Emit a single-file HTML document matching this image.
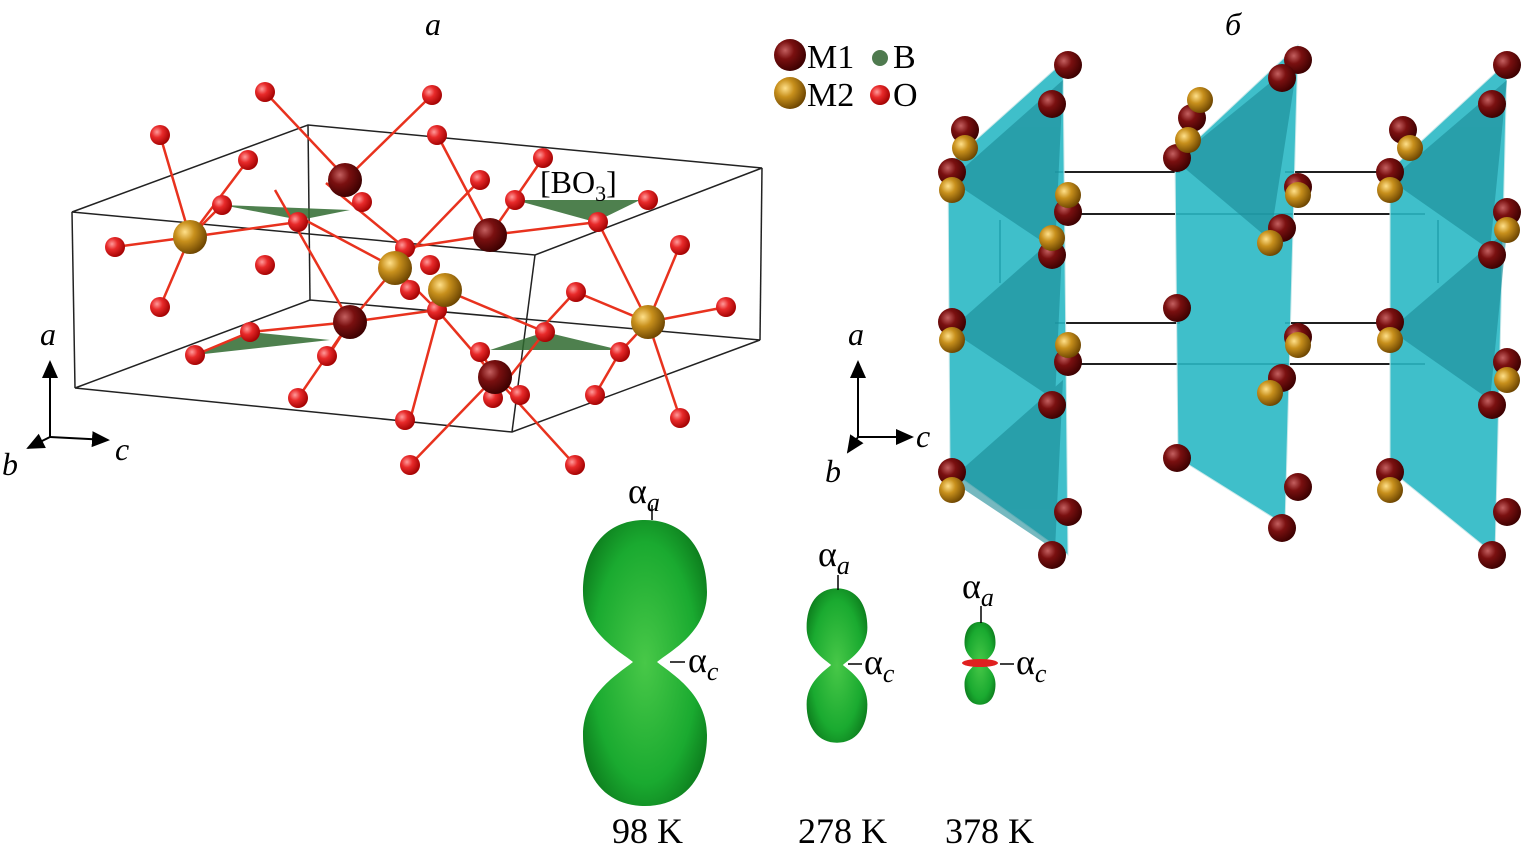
<!DOCTYPE html>
<html><head><meta charset="utf-8"><style>
html,body{margin:0;padding:0;background:#fff;}
svg{display:block;font-family:"Liberation Serif",serif;}
</style></head><body>
<svg width="1523" height="856" viewBox="0 0 1523 856" xmlns="http://www.w3.org/2000/svg">
<defs>
<radialGradient id="o" cx="35%" cy="35%" r="70%"><stop offset="0" stop-color="#ff9a9a"/><stop offset="0.4" stop-color="#e82a2a"/><stop offset="1" stop-color="#a00000"/></radialGradient>
<radialGradient id="m1" cx="35%" cy="35%" r="70%"><stop offset="0" stop-color="#c46060"/><stop offset="0.4" stop-color="#7a1010"/><stop offset="1" stop-color="#3a0000"/></radialGradient>
<radialGradient id="m2" cx="35%" cy="35%" r="70%"><stop offset="0" stop-color="#ffe08a"/><stop offset="0.4" stop-color="#c8901c"/><stop offset="1" stop-color="#6a4300"/></radialGradient>
<radialGradient id="g" cx="50%" cy="50%" r="60%"><stop offset="0" stop-color="#48c848"/><stop offset="0.7" stop-color="#1aaa30"/><stop offset="1" stop-color="#0c7a1c"/></radialGradient>
<marker id="ar" markerWidth="10" markerHeight="10" refX="8" refY="5" orient="auto"><path d="M0,1 L9,5 L0,9 z" fill="#000"/></marker>
<path id="pn" d="M645,520 C685,520 707,550 707,592 C707,632 672,650 657,662 C672,674 707,694 707,735 C707,780 682,806 645,806 C608,806 583,780 583,735 C583,694 618,674 633,662 C618,650 583,632 583,592 C583,550 605,520 645,520 Z"/>
</defs>

<text x="433" y="35" font-size="32" font-style="italic" text-anchor="middle">a</text>
<text x="1233" y="35" font-size="32" font-style="italic" text-anchor="middle">б</text>

<circle cx="790" cy="55" r="16" fill="url(#m1)"/>
<text x="807" y="68" font-size="34">M1</text>
<circle cx="880" cy="58" r="8" fill="#4f7a4f"/>
<text x="893" y="68" font-size="34">B</text>
<circle cx="790" cy="93" r="16" fill="url(#m2)"/>
<text x="807" y="106" font-size="34">M2</text>
<circle cx="880" cy="95" r="10" fill="url(#o)"/>
<text x="893" y="106" font-size="34">O</text>

<g stroke="#222" stroke-width="1.5" fill="none">
<polygon points="72,212 308,125 762,168 535,255"/>
<polygon points="75,388 310,300 760,340 512,432"/>
<line x1="72" y1="212" x2="75" y2="388"/>
<line x1="535" y1="255" x2="512" y2="432"/>
<line x1="762" y1="168" x2="760" y2="340"/>
<line x1="308" y1="125" x2="310" y2="300"/>
</g>
<g fill="#2f6a2f" opacity="0.85">
<polygon points="222,205 350,210 300,220"/>
<polygon points="515,200 640,200 595,222"/>
<polygon points="195,355 330,340 250,332"/>
<polygon points="490,350 620,350 545,332"/>
</g>
<text x="540" y="193" font-size="32">[BO<tspan font-size="22" dy="8">3</tspan><tspan dy="-8">]</tspan></text>
<g stroke="#e8321e" stroke-width="2.5">
<line x1="190" y1="237" x2="115" y2="247"/><line x1="190" y1="237" x2="160" y2="135"/><line x1="190" y1="237" x2="160" y2="307"/><line x1="190" y1="237" x2="248" y2="160"/><line x1="190" y1="237" x2="222" y2="205"/><line x1="190" y1="237" x2="298" y2="222"/>
<line x1="265" y1="92" x2="348" y2="180"/><line x1="345" y1="180" x2="432" y2="95"/><line x1="326" y1="183" x2="405" y2="248"/>
<line x1="490" y1="235" x2="543" y2="158"/><line x1="490" y1="235" x2="405" y2="248"/><line x1="490" y1="235" x2="440" y2="140"/><line x1="490" y1="235" x2="598" y2="222"/>
<line x1="395" y1="268" x2="350" y2="322"/><line x1="395" y1="268" x2="305" y2="220"/><line x1="395" y1="268" x2="437" y2="310"/><line x1="395" y1="268" x2="480" y2="180"/>
<line x1="445" y1="290" x2="435" y2="308"/><line x1="445" y1="290" x2="545" y2="332"/><line x1="445" y1="290" x2="410" y2="420"/>
<line x1="350" y1="322" x2="250" y2="332"/><line x1="350" y1="322" x2="298" y2="398"/><line x1="350" y1="322" x2="437" y2="310"/><line x1="350" y1="322" x2="327" y2="358"/><line x1="350" y1="322" x2="275" y2="190"/>
<line x1="495" y1="377" x2="480" y2="350"/><line x1="495" y1="377" x2="575" y2="465"/><line x1="495" y1="377" x2="410" y2="465"/><line x1="495" y1="377" x2="520" y2="395"/><line x1="495" y1="377" x2="437" y2="310"/>
<line x1="648" y1="322" x2="680" y2="245"/><line x1="648" y1="322" x2="726" y2="307"/><line x1="648" y1="322" x2="680" y2="418"/><line x1="648" y1="322" x2="576" y2="292"/><line x1="648" y1="322" x2="598" y2="222"/><line x1="648" y1="322" x2="620" y2="352"/>
<line x1="575" y1="292" x2="540" y2="330"/><line x1="595" y1="395" x2="620" y2="352"/><line x1="493" y1="398" x2="545" y2="332"/>
<line x1="195" y1="355" x2="250" y2="332"/>
</g>
<g fill="url(#o)">
<circle cx="265" cy="92" r="10"/><circle cx="432" cy="95" r="10"/><circle cx="160" cy="135" r="10"/><circle cx="437" cy="135" r="10"/><circle cx="543" cy="158" r="10"/><circle cx="248" cy="160" r="10"/><circle cx="480" cy="180" r="10"/><circle cx="222" cy="205" r="10"/><circle cx="362" cy="202" r="10"/><circle cx="298" cy="222" r="10"/><circle cx="515" cy="200" r="10"/><circle cx="598" cy="222" r="10"/><circle cx="648" cy="200" r="10"/><circle cx="115" cy="247" r="10"/><circle cx="405" cy="248" r="10"/><circle cx="265" cy="265" r="10"/><circle cx="430" cy="265" r="10"/><circle cx="680" cy="245" r="10"/><circle cx="576" cy="292" r="10"/><circle cx="410" cy="290" r="10"/><circle cx="160" cy="307" r="10"/><circle cx="437" cy="310" r="10"/><circle cx="726" cy="307" r="10"/><circle cx="250" cy="332" r="10"/><circle cx="545" cy="332" r="10"/><circle cx="195" cy="355" r="10"/><circle cx="327" cy="356" r="10"/><circle cx="480" cy="352" r="10"/><circle cx="620" cy="352" r="10"/><circle cx="298" cy="398" r="10"/><circle cx="493" cy="398" r="10"/><circle cx="595" cy="395" r="10"/><circle cx="520" cy="395" r="10"/><circle cx="680" cy="418" r="10"/><circle cx="405" cy="420" r="10"/><circle cx="410" cy="465" r="10"/><circle cx="575" cy="465" r="10"/>
</g>
<circle cx="345" cy="180" r="17" fill="url(#m1)"/><circle cx="490" cy="235" r="17" fill="url(#m1)"/><circle cx="350" cy="322" r="17" fill="url(#m1)"/><circle cx="495" cy="377" r="17" fill="url(#m1)"/>
<circle cx="190" cy="237" r="17" fill="url(#m2)"/><circle cx="395" cy="268" r="17" fill="url(#m2)"/><circle cx="445" cy="290" r="17" fill="url(#m2)"/><circle cx="648" cy="322" r="17" fill="url(#m2)"/>

<g stroke="#000" stroke-width="2" fill="none">
<line x1="50" y1="437" x2="50" y2="362" marker-end="url(#ar)"/>
<line x1="50" y1="437" x2="108" y2="440" marker-end="url(#ar)"/>
<line x1="50" y1="437" x2="28" y2="448" marker-end="url(#ar)"/>
</g>
<text x="40" y="345" font-size="32" font-style="italic">a</text>
<text x="115" y="460" font-size="32" font-style="italic">c</text>
<text x="2" y="475" font-size="32" font-style="italic">b</text>

<g stroke="#000" stroke-width="1.8">
<line x1="1055" y1="172" x2="1180" y2="172"/><line x1="1285" y1="172" x2="1395" y2="172"/>
<line x1="1065" y1="214" x2="1425" y2="214"/>
<line x1="1055" y1="323" x2="1180" y2="323"/><line x1="1285" y1="323" x2="1395" y2="323"/>
<line x1="1065" y1="364" x2="1425" y2="364"/>
<line x1="1000" y1="220" x2="1000" y2="283"/><line x1="1438" y1="220" x2="1438" y2="283"/>
</g>
<g fill="#2ab8c4" fill-opacity="0.9" stroke="#c8e8ea" stroke-width="1">
<polygon points="948,165 1063,62 1068,555 950,470"/>
<polygon points="1175,160 1298,45 1285,525 1178,458"/>
<polygon points="1390,170 1507,62 1495,555 1390,470"/>
</g>
<g fill="#1a8a96" opacity="0.6">
<polygon points="950,180 1063,80 1055,250"/><polygon points="950,330 1063,230 1055,400"/><polygon points="950,480 1063,380 1055,550"/>
<polygon points="1175,160 1298,60 1270,240"/><polygon points="1390,180 1507,80 1490,250"/><polygon points="1390,330 1507,230 1490,400"/>
</g>
<g fill="url(#m1)">
<circle cx="1068" cy="65" r="14"/><circle cx="1052" cy="104" r="14"/><circle cx="965" cy="130" r="14"/><circle cx="952" cy="172" r="14"/><circle cx="1068" cy="212" r="14"/><circle cx="1052" cy="255" r="14"/><circle cx="952" cy="322" r="14"/><circle cx="1068" cy="362" r="14"/><circle cx="1052" cy="405" r="14"/><circle cx="952" cy="472" r="14"/><circle cx="1068" cy="512" r="14"/><circle cx="1052" cy="555" r="14"/>
<circle cx="1298" cy="60" r="14"/><circle cx="1282" cy="78" r="14"/><circle cx="1192" cy="118" r="14"/><circle cx="1177" cy="158" r="14"/><circle cx="1298" cy="187" r="14"/><circle cx="1282" cy="228" r="14"/><circle cx="1177" cy="308" r="14"/><circle cx="1298" cy="337" r="14"/><circle cx="1282" cy="378" r="14"/><circle cx="1177" cy="458" r="14"/><circle cx="1298" cy="487" r="14"/><circle cx="1282" cy="528" r="14"/>
<circle cx="1507" cy="65" r="14"/><circle cx="1492" cy="104" r="14"/><circle cx="1403" cy="130" r="14"/><circle cx="1390" cy="172" r="14"/><circle cx="1507" cy="212" r="14"/><circle cx="1492" cy="255" r="14"/><circle cx="1390" cy="322" r="14"/><circle cx="1507" cy="362" r="14"/><circle cx="1492" cy="405" r="14"/><circle cx="1390" cy="472" r="14"/><circle cx="1507" cy="512" r="14"/><circle cx="1492" cy="555" r="14"/>
</g>
<g fill="url(#m2)">
<circle cx="965" cy="148" r="13"/><circle cx="952" cy="190" r="13"/><circle cx="1068" cy="195" r="13"/><circle cx="1052" cy="238" r="13"/><circle cx="952" cy="340" r="13"/><circle cx="1068" cy="345" r="13"/><circle cx="952" cy="490" r="13"/>
<circle cx="1200" cy="100" r="13"/><circle cx="1188" cy="140" r="13"/><circle cx="1298" cy="195" r="13"/><circle cx="1270" cy="243" r="13"/><circle cx="1298" cy="345" r="13"/><circle cx="1270" cy="393" r="13"/>
<circle cx="1410" cy="148" r="13"/><circle cx="1390" cy="190" r="13"/><circle cx="1507" cy="230" r="13"/><circle cx="1390" cy="340" r="13"/><circle cx="1507" cy="380" r="13"/><circle cx="1390" cy="490" r="13"/>
</g>
<g stroke="#000" stroke-width="2" fill="none">
<line x1="858" y1="437" x2="858" y2="362" marker-end="url(#ar)"/>
<line x1="858" y1="437" x2="912" y2="437" marker-end="url(#ar)"/>
<line x1="858" y1="437" x2="848" y2="452" marker-end="url(#ar)"/>
</g>
<text x="848" y="345" font-size="32" font-style="italic">a</text>
<text x="916" y="447" font-size="32" font-style="italic">c</text>
<text x="825" y="482" font-size="32" font-style="italic">b</text>

<!-- peanut shapes -->
<use href="#pn" fill="url(#g)"/>
<use href="#pn" fill="url(#g)" transform="translate(837,665) scale(0.49,0.54) translate(-645,-662)"/>
<use href="#pn" fill="url(#g)" transform="translate(980,663) scale(0.25,0.29) translate(-645,-662)"/>
<ellipse cx="980" cy="663" rx="18" ry="4" fill="#e02020"/>
<g stroke="#000" stroke-width="1.5">
<line x1="652" y1="505" x2="652" y2="520"/><line x1="670" y1="662" x2="685" y2="662"/>
<line x1="838" y1="575" x2="838" y2="590"/><line x1="848" y1="664" x2="862" y2="664"/>
<line x1="981" y1="606" x2="981" y2="623"/><line x1="1000" y1="664" x2="1014" y2="664"/>
</g>
<g font-size="36">
<text x="628" y="503">α<tspan font-size="26" font-style="italic" dy="8">a</tspan></text>
<text x="688" y="672">α<tspan font-size="26" font-style="italic" dy="8">c</tspan></text>
<text x="818" y="566">α<tspan font-size="26" font-style="italic" dy="8">a</tspan></text>
<text x="864" y="674">α<tspan font-size="26" font-style="italic" dy="8">c</tspan></text>
<text x="962" y="598">α<tspan font-size="26" font-style="italic" dy="8">a</tspan></text>
<text x="1016" y="674">α<tspan font-size="26" font-style="italic" dy="8">c</tspan></text>
<text x="612" y="843">98 K</text>
<text x="798" y="843">278 K</text>
<text x="945" y="843">378 K</text>
</g>
</svg>
</body></html>
